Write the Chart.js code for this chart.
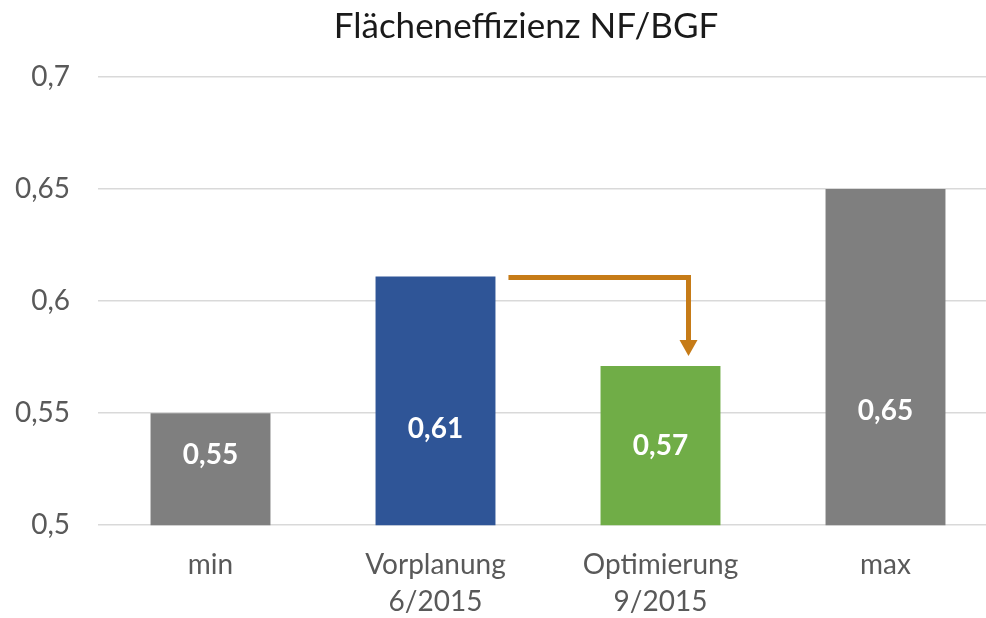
<!DOCTYPE html>
<html>
<head>
<meta charset="utf-8">
<script src="https://cdn.jsdelivr.net/npm/chart.js@4.4.0/dist/chart.umd.min.js"></script>
<style>
  html, body { margin: 0; padding: 0; background: #fff; overflow: hidden; }
  #wrap { width: 986px; height: 618px; overflow: hidden; }
</style>
</head>
<body>
<div id="wrap"><canvas id="effChart" width="1052" height="618"></canvas></div>
<script>
const categories = [['min'], ['Vorplanung', '6/2015'], ['Optimierung', '9/2015'], ['max']];
const ratios = [0.55, 0.611, 0.571, 0.65];
const barColors = ['#7f7f7f', '#2f5597', '#70ad47', '#7f7f7f'];
const yTicks = [0.5, 0.55, 0.6, 0.65, 0.7];
const chartTitle = 'Flächeneffizienz NF/BGF';

const fontFam = 'Lato, "Open Sans", sans-serif';

function deComma(v) {
    return String(v).replace('.', ',');
}

// Titel, Werte-Labels in den Balken + Pfeil Vorplanung -> Optimierung
const overlayPlugin = {
    id: 'overlay',
    afterDatasetsDraw(chart) {
        const ctx = chart.ctx;
        const meta = chart.getDatasetMeta(0);
        const y = chart.scales.y;
        const area = chart.chartArea;

        ctx.save();
        // Titel (etwas links von der Mitte der Zeichenfläche, wie im Original)
        ctx.fillStyle = '#1a1a1a';
        ctx.font = '35px ' + fontFam;
        ctx.textAlign = 'center';
        ctx.textBaseline = 'middle';
        ctx.fillText(chartTitle, (area.left + area.right) / 2 - 22, 27);

        ctx.fillStyle = '#ffffff';
        ctx.font = 'bold 28px ' + fontFam;
        meta.data.forEach(function (bar, i) {
            const lv = 0.5401 + (ratios[i] - 0.5955) * 0.196;
            ctx.fillText(ratios[i].toFixed(2).replace('.', ','), bar.x, y.getPixelForValue(lv));
        });

        // Pfeil
        const from = meta.data[1];
        const to = meta.data[2];
        const x0 = from.x + from.width / 2 + 13;
        const y0 = from.y + 1;
        const x1 = to.x + 28;
        const tip = to.y - 10;
        ctx.strokeStyle = '#c67b17';
        ctx.fillStyle = '#c67b17';
        ctx.lineWidth = 5;
        ctx.lineJoin = 'miter';
        ctx.beginPath();
        ctx.moveTo(x0, y0);
        ctx.lineTo(x1, y0);
        ctx.lineTo(x1, tip - 14);
        ctx.stroke();
        ctx.beginPath();
        ctx.moveTo(x1 - 9, tip - 16);
        ctx.lineTo(x1 + 9, tip - 16);
        ctx.lineTo(x1, tip);
        ctx.closePath();
        ctx.fill();
        ctx.restore();
    }
};

const ctx = document.getElementById('effChart').getContext('2d');

const effChart = new Chart(ctx, {
    type: 'bar',
    data: {
        labels: categories,
        datasets: [{
            label: 'NF/BGF',
            data: ratios,
            backgroundColor: barColors,
            borderWidth: 0,
            categoryPercentage: 1,
            barPercentage: 0.533
        }]
    },
    options: {
        responsive: false,
        animation: false,
        layout: {
            padding: { left: 10, right: 54, top: 77, bottom: -24 }
        },
        scales: {
            x: {
                grid: { display: false, drawTicks: false },
                border: { display: false },
                ticks: {
                    color: '#595959',
                    font: { family: fontFam, size: 28, lineHeight: 1.3 },
                    padding: 22,
                    maxRotation: 0
                }
            },
            y: {
                min: 0.5,
                max: 0.7,
                afterBuildTicks: function (axis) {
                    axis.ticks = yTicks.map(v => ({ value: v }));
                },
                afterFit: function (axis) {
                    axis.width = 88;
                },
                grid: { color: '#d9d9d9', lineWidth: 1.5, drawTicks: false },
                border: { display: false },
                ticks: {
                    color: '#595959',
                    font: { family: fontFam, size: 28 },
                    padding: 28,
                    callback: function (v) { return deComma(v); }
                }
            }
        },
        plugins: {
            legend: { display: false },
            tooltip: { enabled: false },
            title: { display: false }
        }
    },
    plugins: [overlayPlugin]
});
</script>
</body>
</html>
